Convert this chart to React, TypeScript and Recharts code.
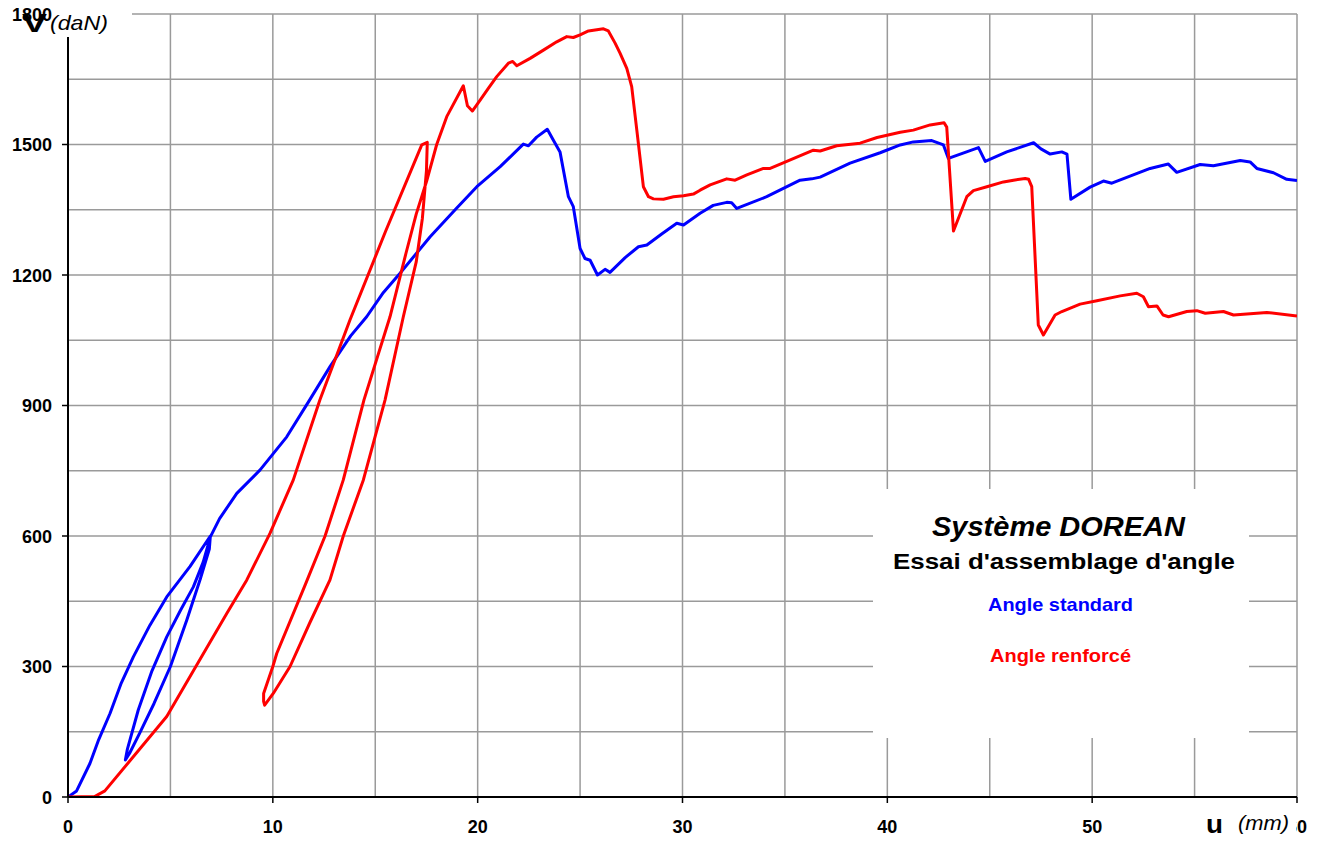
import { CartesianGrid, Line, LineChart, XAxis, YAxis } from 'recharts';

// u (mm), V (daN)
const standardPts: [number, number][] = [
  [0, 0], [0.42, 14], [1.07, 77], [1.5, 132], [2.05, 192], [2.6, 262], [3.19, 322], [4.0, 395], [4.82, 460],
  [5.96, 530], [6.95, 600],
  [6.9, 570], [6.45, 500], [5.8, 407], [5.0, 300], [4.2, 215], [3.5, 147], [3.0, 100], [2.8, 85],
  [2.9, 110], [3.43, 200], [4.1, 290], [4.82, 368], [5.5, 430], [6.12, 483], [6.6, 540], [6.95, 598],
  [7.4, 640], [8.24, 698], [9.38, 752], [10.68, 828], [11.8, 913], [12.8, 990], [13.8, 1060], [14.58, 1104],
  [15.4, 1160], [16.21, 1204], [17.68, 1288], [18.9, 1350], [19.96, 1403], [21.1, 1449], [22.23, 1501],
  [22.48, 1497], [22.88, 1517], [23.4, 1535], [23.67, 1512], [24.02, 1483], [24.43, 1380], [24.67, 1357],
  [25.0, 1261], [25.24, 1238], [25.49, 1234], [25.85, 1200], [26.22, 1213], [26.46, 1206], [27.2, 1240],
  [27.85, 1265], [28.26, 1269], [29.0, 1295], [29.72, 1319], [30.05, 1315], [30.86, 1342], [31.5, 1360],
  [32.16, 1367], [32.4, 1366], [32.65, 1353], [34.11, 1380], [35.74, 1418], [36.31, 1421], [36.72, 1425],
  [38.18, 1457], [39.65, 1481], [40.63, 1499], [41.27, 1506], [42.17, 1509], [42.74, 1499], [42.98, 1468],
  [44.45, 1493], [44.78, 1461], [45.83, 1483], [47.14, 1504], [47.5, 1490], [47.95, 1478], [48.52, 1483],
  [48.77, 1478], [48.96, 1374], [49.9, 1402], [50.55, 1416], [50.96, 1411], [52.83, 1445], [53.72, 1455],
  [54.13, 1436], [55.27, 1454], [55.92, 1451], [57.23, 1463], [57.71, 1460], [58.04, 1445], [58.85, 1435],
  [59.5, 1420], [60, 1417],
];

const renforcePts: [number, number][] = [
  [0, 0], [1.3, 1], [1.8, 14], [4.82, 185], [7.75, 422], [8.73, 499], [9.86, 606], [11.0, 729], [12.3, 913],
  [13.77, 1097], [15.5, 1300], [17.27, 1499], [17.54, 1505],
  [17.5, 1440], [17.3, 1330], [17.0, 1230], [16.37, 1104], [15.48, 913], [14.42, 729], [13.44, 600],
  [12.79, 499], [11.8, 400], [10.84, 300], [10.02, 238], [9.6, 211],
  [9.55, 220], [9.55, 238], [10.0, 300], [10.19, 330], [11.6, 490], [12.55, 600], [13.44, 729], [14.45, 913],
  [15.72, 1104], [16.5, 1250], [17.0, 1340], [17.51, 1416], [18.0, 1500], [18.49, 1564], [19.3, 1635],
  [19.5, 1589], [19.74, 1577], [20.12, 1602], [20.52, 1629], [20.93, 1656], [21.5, 1687], [21.71, 1691],
  [21.91, 1681], [22.56, 1698], [23.21, 1717], [23.86, 1736], [24.35, 1748], [24.67, 1746], [25.0, 1752],
  [25.41, 1761], [26.14, 1766], [26.38, 1761], [26.71, 1733], [26.95, 1710], [27.28, 1675], [27.52, 1633],
  [27.77, 1533], [28.09, 1403], [28.34, 1380], [28.58, 1375], [29.07, 1374], [29.56, 1380], [30.05, 1382],
  [30.53, 1386], [30.86, 1395], [31.35, 1407], [32.16, 1421], [32.57, 1418], [33.14, 1430], [33.95, 1445],
  [34.28, 1445], [35.09, 1461], [36.39, 1487], [36.72, 1485], [37.53, 1497], [38.67, 1503], [39.5, 1516],
  [40.63, 1528], [41.27, 1533], [42.09, 1545], [42.77, 1550], [42.9, 1540], [43.23, 1301], [43.88, 1380],
  [44.2, 1394], [44.86, 1403], [45.67, 1414], [46.16, 1418], [46.73, 1422], [46.9, 1420], [47.05, 1403],
  [47.37, 1085], [47.62, 1062], [48.19, 1108], [48.52, 1116], [49.41, 1133], [50.23, 1141], [51.37, 1152],
  [52.18, 1158], [52.5, 1150], [52.75, 1127], [53.16, 1129], [53.46, 1108], [53.73, 1104], [54.62, 1116],
  [55.11, 1118], [55.52, 1112], [56.41, 1116], [56.9, 1108], [58.53, 1114], [60, 1106],
];

const xTicks = [0, 5, 10, 15, 20, 25, 30, 35, 40, 45, 50, 55, 60];
const xLabels = [0, 10, 20, 30, 40, 50, 60];
const yTicks = [0, 150, 300, 450, 600, 750, 900, 1050, 1200, 1350, 1500, 1650, 1800];
const yLabels = [0, 300, 600, 900, 1200, 1500, 1800];

const toRows = (pts: [number, number][]) => pts.map(([u, v]) => ({ u, v }));

const FONT = '"Liberation Sans", Arial, sans-serif';

const XTick = (props: any) => {
  const { x, y, payload } = props;
  if (!xLabels.includes(payload.value)) return <g />;
  return (
    <g>
      <line x1={x} x2={x} y1={y} y2={y + 6} stroke="#000" strokeWidth={1.5} />
      <text x={x} y={y + 36} textAnchor="middle" fontFamily={FONT} fontWeight="bold" fontSize={18} fill="#000">
        {payload.value}
      </text>
    </g>
  );
};

const YTick = (props: any) => {
  const { x, y, payload } = props;
  if (!yLabels.includes(payload.value)) return <g />;
  return (
    <g>
      <line x1={x - 6} x2={x} y1={y} y2={y} stroke="#000" strokeWidth={1.5} />
      <text x={x - 16} y={y + 6.5} textAnchor="end" fontFamily={FONT} fontWeight="bold" fontSize={18} fill="#000">
        {payload.value}
      </text>
    </g>
  );
};

export default function App() {
  return (
    <div style={{ position: 'absolute', left: 0, top: 0, width: 1322, height: 843, background: '#fff' }}>
      <LineChart width={1322} height={843} margin={{ top: 14, right: 25, bottom: 0, left: 0 }}>
        <CartesianGrid stroke="#9a9a9a" strokeWidth={1.5} />
        <XAxis
          dataKey="u"
          type="number"
          domain={[0, 60]}
          ticks={xTicks}
          interval={0}
          height={46}
          tickSize={0}
          tickMargin={0}
          tickLine={false}
          tick={XTick}
          axisLine={{ stroke: '#000', strokeWidth: 2 }}
          allowDataOverflow
        />
        <YAxis
          type="number"
          domain={[0, 1800]}
          ticks={yTicks}
          interval={0}
          width={68}
          tickSize={0}
          tickMargin={0}
          tickLine={false}
          tick={YTick}
          axisLine={{ stroke: '#000', strokeWidth: 2 }}
          allowDataOverflow
        />
        <Line data={toRows(standardPts)} dataKey="v" type="linear" stroke="#0000ff" strokeWidth={3}
          strokeLinejoin="round" dot={false} activeDot={false} isAnimationActive={false} />
        <Line data={toRows(renforcePts)} dataKey="v" type="linear" stroke="#ff0000" strokeWidth={3}
          strokeLinejoin="round" dot={false} activeDot={false} isAnimationActive={false} />
      </LineChart>
      <svg width={1322} height={843} style={{ position: 'absolute', left: 0, top: 0, pointerEvents: 'none' }}>
        <rect x={57} y={0} width={75} height={37} fill="#fff" />
        <text x={22} y={32} fontFamily={FONT} fontWeight="bold" fontSize={26} textLength={25} lengthAdjust="spacingAndGlyphs">V</text>
        <text x={50} y={30} fontFamily={FONT} fontStyle="italic" fontSize={21} textLength={58} lengthAdjust="spacingAndGlyphs">(daN)</text>

        <rect x={1200} y={808} width={96} height={35} fill="#fff" />
        <text x={1206} y={833} fontFamily={FONT} fontWeight="bold" fontSize={26} textLength={17} lengthAdjust="spacingAndGlyphs">u</text>
        <text x={1238} y={830} fontFamily={FONT} fontStyle="italic" fontSize={21} textLength={51} lengthAdjust="spacingAndGlyphs">(mm)</text>

        <rect x={873} y={489} width={376} height={249} fill="#fff" />
        <text x={932} y={536} fontFamily={FONT} fontWeight="bold" fontStyle="italic" fontSize={27} textLength={253} lengthAdjust="spacingAndGlyphs">Système DOREAN</text>
        <text x={893} y={569} fontFamily={FONT} fontWeight="bold" fontSize={22} textLength={342} lengthAdjust="spacingAndGlyphs">Essai d'assemblage d'angle</text>
        <text x={988} y={611} fontFamily={FONT} fontWeight="bold" fontSize={19} fill="#0000ff" textLength={145} lengthAdjust="spacingAndGlyphs">Angle standard</text>
        <text x={990} y={662} fontFamily={FONT} fontWeight="bold" fontSize={19} fill="#ff0000" textLength={141} lengthAdjust="spacingAndGlyphs">Angle renforcé</text>
      </svg>
    </div>
  );
}
